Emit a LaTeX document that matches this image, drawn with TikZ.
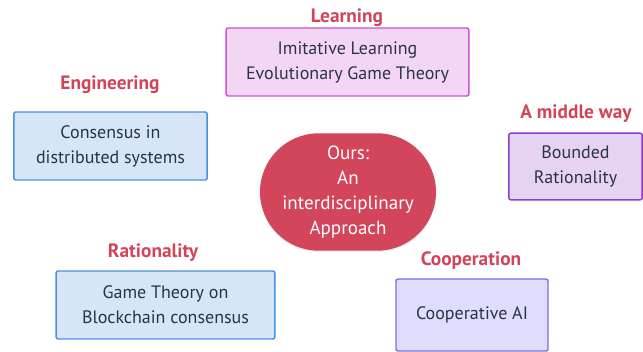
\documentclass[tikz,border=0pt]{standalone}
\usepackage{fontspec}
\setmainfont{PT Sans}
\usepackage{tikz}
\usetikzlibrary{shadows}

\definecolor{tagred}{HTML}{D1455A}
\definecolor{textdark}{HTML}{2B3442}
\definecolor{pinkfill}{HTML}{F2D6F3}
\definecolor{pinkline}{HTML}{C955D6}
\definecolor{bluefill}{HTML}{D6E6F7}
\definecolor{blueline}{HTML}{4A90E2}
\definecolor{violetfill}{HTML}{E6D3F4}
\definecolor{violetline}{HTML}{8B3FCB}
\definecolor{lilacfill}{HTML}{DEDDFB}
\definecolor{lilacline}{HTML}{7C6FE0}
\definecolor{oursred}{HTML}{D2455B}

\begin{document}
\begin{tikzpicture}[x=0.75pt,y=-0.75pt,
  box/.style={draw,line width=1.1pt,rounded corners=1.5pt,align=center,
    text=textdark,inner sep=0pt,font=\fontsize{13.5}{18.75}\selectfont},
  tag/.style={text=tagred,font=\bfseries\fontsize{14.5}{16}\selectfont}]
\useasboundingbox (0,0) rectangle (643,352);

% centre
\node[fill=oursred,rounded corners=44pt,minimum width=132pt,minimum height=88pt,
  align=center,text=white,font=\fontsize{14.3}{18.75}\selectfont,
  drop shadow={opacity=0.15,shadow xshift=0pt,shadow yshift=-1pt}]
  (ours) at (348,192) {Ours:\\An\\interdisciplinary\\Approach};

% boxes
\node[box,fill=pinkfill,draw=pinkline,minimum width=182pt,minimum height=51pt]
  (learning) at (347.5,62) {Imitative Learning\\Evolutionary Game Theory};
\node[box,fill=bluefill,draw=blueline,minimum width=145pt,minimum height=51pt]
  (consensus) at (110.5,146) {Consensus in\\distributed systems};
\node[box,fill=violetfill,draw=violetline,minimum width=100pt,minimum height=50pt]
  (bounded) at (575.5,166.5) {Bounded\\Rationality};
\node[box,fill=bluefill,draw=blueline,minimum width=164pt,minimum height=51pt]
  (gametheory) at (165.5,305) {Game Theory on\\Blockchain consensus};
\node[box,fill=lilacfill,draw=lilacline,minimum width=114pt,minimum height=54pt]
  (coop) at (472,315) {Cooperative AI};

% labels
\node[tag] (learningtag) at (347,18) {Learning};
\node[tag] (engtag) at (110,85) {Engineering};
\node[tag] (middletag) at (576,114) {A middle way};
\node[tag] (rattag) at (153,253) {Rationality};
\node[tag] (cooptag) at (471,261) {Cooperation};

\end{tikzpicture}
\end{document}
